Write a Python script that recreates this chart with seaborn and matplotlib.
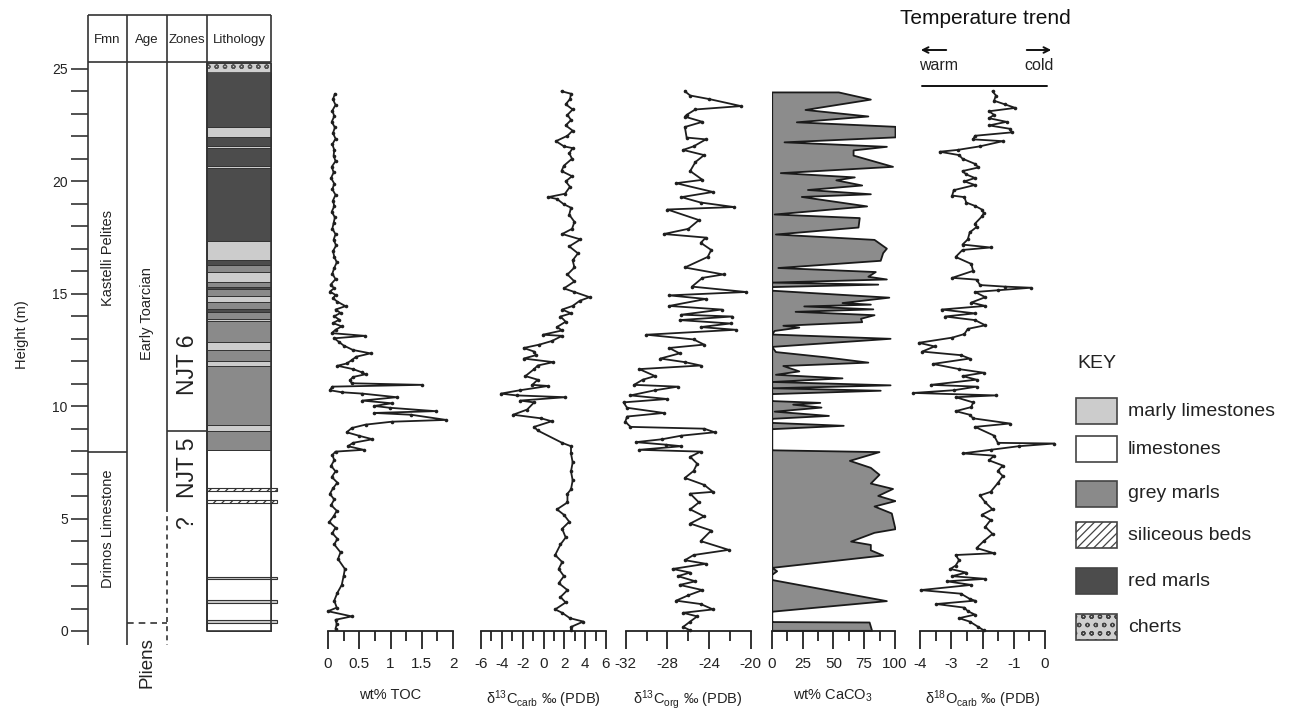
import matplotlib
matplotlib.use("Agg")
import matplotlib.pyplot as plt
import seaborn as sns
from matplotlib.patches import Rectangle

# ---------------- DATA ----------------
toc_h = [23.90, 23.65, 23.40, 23.15, 22.90, 22.65, 22.40, 22.15, 21.90, 21.65, 21.40, 21.15, 20.90, 20.65,
         20.40, 20.15, 19.90, 19.65, 19.40, 19.15, 18.90, 18.65, 18.40, 18.15, 17.90, 17.65, 17.40, 17.15,
         16.90, 16.65, 16.40, 16.15, 15.90, 15.65, 15.40, 15.25, 15.10, 14.95, 14.80, 14.65, 14.45, 14.30,
         14.15, 14.00, 13.85, 13.70, 13.55, 13.40, 13.25, 13.13, 13.02, 12.85, 12.70, 12.50, 12.35, 12.20,
         12.05, 11.90, 11.80, 11.65, 11.50, 11.42, 11.30, 11.15, 11.02, 10.95, 10.87, 10.71, 10.62, 10.56,
         10.40, 10.25, 10.13, 10.01, 9.93, 9.78, 9.70, 9.62, 9.39, 9.31, 9.18, 9.03, 8.84, 8.69, 8.53,
         8.37, 8.22, 8.06, 7.98, 7.83, 7.60, 7.35, 7.10, 6.85, 6.60, 6.35, 6.10, 5.85, 5.60, 5.35, 5.10,
         4.85, 4.60, 4.35, 4.10, 3.85, 3.50, 3.20, 2.76, 2.45, 2.05, 1.70, 1.35, 1.04, 0.88, 0.65, 0.50,
         0.30, 0.10]
toc_v = [0.11, 0.08, 0.12, 0.07, 0.10, 0.06, 0.11, 0.08, 0.12, 0.07, 0.10, 0.09, 0.12, 0.06,
         0.09, 0.05, 0.10, 0.07, 0.12, 0.08, 0.10, 0.06, 0.11, 0.09, 0.07, 0.12, 0.09, 0.13,
         0.08, 0.10, 0.14, 0.10, 0.07, 0.12, 0.04, 0.10, 0.03, 0.12, 0.08, 0.15, 0.28, 0.12,
         0.20, 0.10, 0.18, 0.08, 0.22, 0.12, 0.06, 0.59, 0.10, 0.18, 0.25, 0.40, 0.68, 0.45,
         0.38, 0.30, 0.15, 0.40, 0.55, 0.60, 0.40, 0.35, 0.38, 1.50, 0.07, 0.03, 0.22, 0.55,
         1.10, 0.55, 1.02, 0.74, 0.99, 1.72, 0.74, 1.33, 1.89, 1.02, 0.60, 0.38, 0.30, 0.49, 0.71,
         0.40, 0.32, 0.57, 0.12, 0.07, 0.10, 0.05, 0.12, 0.06, 0.15, 0.08, 0.03, 0.10, 0.05, 0.14, 0.09,
         0.02, 0.12, 0.07, 0.15, 0.10, 0.20, 0.16, 0.27, 0.25, 0.22, 0.15, 0.10, 0.14, 0.00, 0.38, 0.12,
         0.14, 0.12]

ccarb_h = [24.01, 23.90, 23.66, 23.43, 23.20, 22.96, 22.73, 22.49, 22.26, 22.03, 21.79, 21.56, 21.48,
           21.25, 21.01, 20.70, 20.46, 20.23, 20.00, 19.76, 19.45, 19.30, 19.22, 18.98, 18.83, 18.52,
           18.20, 17.89, 17.66, 17.42, 17.11, 16.80, 16.49, 16.17, 15.86, 15.55, 15.24, 15.08, 14.85,
           14.69, 14.46, 14.30, 14.13, 13.99, 13.76, 13.52, 13.37, 13.18, 13.13, 12.90, 12.74, 12.59,
           12.43, 12.27, 12.12, 11.96, 11.81, 11.65, 11.34, 11.18, 10.95, 10.90, 10.71, 10.56, 10.48,
           10.40, 10.25, 10.17, 9.85, 9.62, 9.46, 9.33, 9.08, 8.92, 8.37, 8.22, 7.90, 7.50, 7.10, 6.70,
           6.30, 6.11, 5.72, 5.41, 5.17, 4.86, 4.55, 4.16, 3.85, 3.38, 3.07, 2.76, 2.44, 2.13, 1.82,
           1.51, 1.27, 0.96, 0.81, 0.57, 0.42, 0.18, 0.03]
ccarb_v = [1.73, 2.64, 2.54, 2.13, 2.80, 2.30, 2.64, 2.13, 2.80, 2.30, 1.19, 1.96, 2.80,
           2.47, 2.74, 1.96, 1.73, 2.74, 2.13, 2.54, 2.06, 0.45, 1.29, 1.96, 2.64, 2.47,
           2.97, 2.74, 1.79, 3.55, 2.47, 3.31, 2.80, 2.97, 2.30, 2.97, 1.96, 2.97, 4.42,
           3.48, 2.80, 1.79, 2.64, 1.63, 2.13, 1.29, 1.79, -0.06, 1.79, 0.80, -0.39, -1.90,
           -0.90, -0.73, -1.90, 0.95, -0.56, -0.90, -1.74, -0.56, -1.07, 0.45, -2.25, -4.10, -2.58,
           2.10, -2.25, -0.90, -1.57, -2.92, -0.22, 0.78, -0.90, -0.56, 1.79, 2.64, 2.64, 2.80, 2.64, 2.80,
           2.64, 2.30, 2.30, 1.29, 1.96, 2.47, 1.79, 2.13, 1.63, 1.12, 1.79, 1.46, 1.96, 1.46, 2.30,
           1.63, 2.13, 1.12, 1.79, 2.54, 3.82, 2.64, 2.64]

corg_h = [24.01, 23.82, 23.66, 23.35, 23.20, 22.96, 22.88, 22.65, 22.42, 21.95, 21.87, 21.56, 21.40,
          21.17, 20.86, 20.46, 20.07, 19.92, 19.53, 19.30, 19.06, 18.86, 18.75, 18.28, 17.89, 17.66,
          17.50, 17.27, 16.95, 16.64, 16.17, 15.86, 15.71, 15.32, 15.08, 14.93, 14.77, 14.46, 14.30,
          14.07, 13.99, 13.83, 13.68, 13.52, 13.40, 13.18, 12.97, 12.74, 12.59, 12.35, 12.12, 11.96,
          11.81, 11.65, 11.34, 11.18, 10.95, 10.87, 10.71, 10.48, 10.32, 10.17, 9.93, 9.70, 9.54, 9.31,
          9.08, 9.00, 8.84, 8.69, 8.53, 8.40, 8.29, 8.22, 8.06, 7.98, 7.75, 7.44, 7.12, 6.81, 6.50,
          6.19, 6.11, 5.72, 5.41, 5.10, 4.78, 4.47, 4.00, 3.61, 3.38, 3.15, 2.99, 2.76, 2.60, 2.44,
          2.21, 2.05, 1.82, 1.59, 1.35, 1.20, 0.96, 0.81, 0.65, 0.42, 0.18, 0.03]
corg_v = [-26.32, -25.81, -23.96, -20.93, -25.31, -26.15, -26.32, -24.63, -26.32, -26.15, -24.30, -25.48, -26.49,
          -24.47, -25.31, -25.81, -24.63, -27.16, -23.62, -26.65, -24.80, -21.60, -28.00, -24.97, -25.98, -28.34,
          -24.30, -24.80, -23.79, -24.13, -26.32, -22.61, -24.63, -25.64, -20.43, -27.83, -24.30, -27.83, -22.79,
          -26.65, -21.77, -26.82, -21.93, -24.80, -21.44, -30.02, -25.48, -24.47, -27.83, -26.82, -28.68, -26.32,
          -24.80, -30.70, -29.18, -30.36, -31.20, -26.99, -29.18, -31.54, -28.00, -32.21, -31.87, -28.34, -31.87, -32.04,
          -31.54, -24.47, -23.46, -26.65, -28.51, -31.03, -28.17, -26.65, -30.70, -24.80, -25.81, -25.14, -25.48, -26.32, -24.47,
          -23.62, -25.81, -24.97, -25.81, -24.47, -25.81, -23.79, -24.80, -22.11, -25.48, -26.32, -24.30, -27.50, -25.81, -26.99,
          -25.31, -26.82, -24.63, -25.98, -27.16, -24.80, -23.62, -26.49, -25.14, -25.81, -26.49, -25.81]

caco3_h = [23.98, 23.66, 23.20, 22.91, 22.65, 22.45, 21.98, 21.76, 21.56, 21.40, 21.17, 20.67, 20.39,
           20.20, 20.07, 19.84, 19.64, 19.45, 19.33, 18.91, 18.55, 18.39, 17.97, 17.66, 17.42, 17.03,
           16.83, 16.49, 16.17, 15.99, 15.78, 15.66, 15.52, 15.43, 15.32, 15.16, 14.85, 14.61, 14.54,
           14.46, 14.33, 14.22, 14.07, 13.91, 13.76, 13.60, 13.52, 13.37, 13.21, 13.02, 12.66, 12.43,
           12.20, 11.96, 11.81, 11.57, 11.42, 11.26, 11.10, 10.95, 10.82, 10.71, 10.56, 10.25, 10.17,
           10.09, 9.96, 9.78, 9.59, 9.46, 9.28, 9.15, 9.00, 8.06, 7.98, 7.59, 7.28, 6.97, 6.58, 6.34,
           6.03, 5.80, 5.56, 5.25, 4.55, 4.39, 4.00, 3.85, 3.61, 3.38, 2.83, 2.68, 2.52, 2.29, 1.35,
           0.88, 0.42, 0.40, 0.03]
caco3_v = [54, 80, 27, 78, 20, 100, 100, 10, 93, 66, 66, 98, 7,
           67, 52, 73, 29, 80, 24, 77, 2, 71, 70, 3, 83, 93,
           90, 88, 5, 84, 78, 93, 0, 86, 0, 0, 95, 57, 80,
           26, 82, 19, 83, 72, 73, 9, 22, 2, 0, 96, 0, 3,
           43, 78, 9, 22, 3, 57, 0, 96, 0, 88, 0, 0, 39,
           17, 40, 2, 46, 0, 0, 58, 0, 0, 87, 63, 80, 87, 80, 98,
           86, 100, 83, 97, 100, 83, 64, 80, 80, 90, 0, 4, 0, 0, 93,
           0, 0, 79, 81]

o18_h = [24.01, 23.82, 23.59, 23.43, 23.27, 23.12, 22.96, 22.81, 22.65, 22.49, 22.34, 22.18, 22.03,
         21.87, 21.79, 21.56, 21.40, 21.32, 21.17, 21.01, 20.78, 20.62, 20.46, 20.31, 20.15, 20.00,
         19.84, 19.61, 19.37, 19.30, 19.06, 18.91, 18.75, 18.59, 18.44, 18.12, 17.97, 17.73, 17.42,
         17.19, 17.06, 16.95, 16.64, 16.33, 16.02, 15.71, 15.63, 15.39, 15.32, 15.27, 15.16, 15.08,
         14.85, 14.61, 14.46, 14.30, 14.13, 13.99, 13.83, 13.60, 13.44, 13.21, 13.05, 12.82, 12.66,
         12.43, 12.27, 12.12, 11.88, 11.65, 11.49, 11.34, 11.18, 10.95, 10.87, 10.71, 10.59, 10.48,
         10.40, 10.17, 9.96, 9.78, 9.62, 9.46, 9.23, 9.08, 8.69, 8.37, 8.34, 8.22, 8.06, 7.90, 7.80,
         7.59, 7.36, 7.12, 6.89, 6.58, 6.19, 6.03, 5.72, 5.41, 5.17, 4.94, 4.63, 4.32, 4.00, 3.69,
         3.46, 3.38, 3.15, 2.91, 2.76, 2.60, 2.44, 2.32, 2.21, 2.05, 1.82, 1.66, 1.43, 1.35, 1.20,
         1.04, 0.88, 0.73, 0.57, 0.42, 0.18, 0.03]
o18_v = [-1.68, -1.57, -1.63, -1.29, -0.95, -1.79, -1.63, -1.79, -1.23, -1.79, -1.12, -1.07, -2.24,
         -2.30, -1.35, -2.08, -2.80, -3.37, -2.75, -2.64, -2.24, -2.13, -2.64, -2.52, -2.24, -2.58,
         -2.24, -2.92, -2.97, -2.58, -2.52, -2.24, -2.02, -1.96, -2.02, -2.24, -2.19, -2.41, -2.47,
         -2.64, -1.74, -2.64, -2.86, -2.36, -2.30, -2.97, -2.19, -2.08, -1.29, -0.45, -1.51, -2.24,
         -1.91, -2.36, -1.91, -3.31, -2.24, -3.20, -2.24, -1.91, -2.47, -2.58, -2.97, -4.04, -3.53,
         -3.93, -2.69, -2.41, -3.59, -2.75, -1.96, -2.64, -2.19, -3.65, -2.19, -2.92, -4.21, -1.57,
         -2.86, -2.30, -2.36, -2.86, -2.41, -2.30, -1.12, -2.24, -1.63, -1.51, 0.30, -0.84, -1.74, -2.64, -1.63,
         -1.79, -1.35, -1.51, -1.35, -1.51, -1.74, -2.08, -1.91, -1.68, -2.02, -1.74, -1.91, -1.68, -1.96, -2.19,
         -1.63, -2.86, -2.75, -2.86, -3.03, -2.52, -2.97, -1.91, -3.14, -2.36, -3.98, -2.69, -2.41, -2.24, -3.48,
         -2.58, -2.47, -2.24, -2.75, -2.41, -2.13, -1.96]

# lithology (base m, top m, type)
lith_base = [0.00, 8.04, 8.90, 9.16, 11.78, 12.00, 12.52, 12.86, 13.80, 13.90, 14.20, 14.34, 14.63,
             14.89, 15.22, 15.30, 15.52, 15.98, 16.28, 16.49, 17.35, 20.60, 20.67, 21.50, 21.56,
             21.97, 22.41, 24.86]
lith_top = [8.04, 8.90, 9.16, 11.78, 12.00, 12.52, 12.86, 13.80, 13.90, 14.20, 14.34, 14.63, 14.89,
            15.22, 15.30, 15.52, 15.98, 16.28, 16.49, 17.35, 20.60, 20.67, 21.50, 21.56, 21.97,
            22.41, 24.86, 25.26]
lith_type = ["limestones", "grey marls", "marly limestones", "grey marls", "marly limestones",
             "grey marls", "marly limestones", "grey marls", "marly limestones", "grey marls",
             "red marls", "grey marls", "marly limestones", "grey marls", "red marls", "grey marls",
             "marly limestones", "grey marls", "red marls", "marly limestones", "red marls",
             "marly limestones", "red marls", "marly limestones", "red marls", "marly limestones",
             "red marls", "cherts"]
bed_base = [0.37, 1.23, 2.30, 5.70, 6.22]
bed_top = [0.49, 1.38, 2.41, 5.82, 6.34]
bed_type = ["marly limestones", "marly limestones", "marly limestones", "siliceous beds", "siliceous beds"]

key_labels = ["marly limestones", "limestones", "grey marls", "siliceous beds", "red marls", "cherts"]

height_ticks = [0, 5, 10, 15, 20, 25]

panel_labels = ["wt% TOC", "δ$^{13}$C$_{\\rm carb}$ ‰ (PDB)", "δ$^{13}$C$_{\\rm org}$ ‰ (PDB)",
                "wt% CaCO$_3$", "δ$^{18}$O$_{\\rm carb}$ ‰ (PDB)"]
toc_ticks = [0, 0.5, 1, 1.5, 2]
toc_ticklabels = ["0", "0.5", "1", "1.5", "2"]
ccarb_ticks = [-6, -4, -2, 0, 2, 4, 6]
corg_ticks = [-32, -28, -24, -20]
caco3_ticks = [0, 25, 50, 75, 100]
o18_ticks = [-4, -3, -2, -1, 0]

# ---------------- STYLE ----------------
sns.set_theme(style="white")
plt.rcParams["font.family"] = ["Liberation Sans", "DejaVu Sans"]
plt.rcParams["axes.unicode_minus"] = False
plt.rcParams["mathtext.fontset"] = "custom"
plt.rcParams["mathtext.rm"] = "Liberation Sans"
plt.rcParams["mathtext.it"] = "Liberation Sans:italic"
plt.rcParams["mathtext.bf"] = "Liberation Sans:bold"
plt.rcParams["hatch.linewidth"] = 0.9

FILL = {"marly limestones": "#cccccc", "limestones": "#ffffff", "grey marls": "#8a8a8a",
        "siliceous beds": "#ffffff", "red marls": "#4c4c4c", "cherts": "#cfcfcf"}
HATCH = {"siliceous beds": "////", "cherts": "oo"}
INK = "#222222"

W, H = 1303, 711
PXM = 22.48
Y0 = 631


def hy(ypix):
    return (Y0 - ypix) / PXM


fig = plt.figure(figsize=(W / 100, H / 100), dpi=100)
ax0 = fig.add_axes([0, 0, 1, 1])
ax0.set_xlim(0, W)
ax0.set_ylim(hy(H), hy(0))
ax0.axis("off")

# lithology column
LX0, LX1 = 207, 271
ax0.barh(lith_base, LX1 - LX0, height=[t - b for b, t in zip(lith_base, lith_top)], left=LX0,
         align="edge", color=[FILL[t] for t in lith_type], edgecolor="#333333", linewidth=0.7,
         zorder=2)
for b, t, ty in zip(lith_base, lith_top, lith_type):
    if ty in HATCH:
        ax0.add_patch(Rectangle((LX0, b), LX1 - LX0, t - b, facecolor=FILL[ty], edgecolor="#555555",
                                hatch=HATCH[ty], linewidth=0.7, zorder=3))
for b, t, ty in zip(bed_base, bed_top, bed_type):
    ax0.add_patch(Rectangle((LX0, b), 277 - LX0, t - b, facecolor=FILL[ty], edgecolor="#333333",
                            hatch=HATCH.get(ty), linewidth=0.8, zorder=4))
ax0.add_patch(Rectangle((LX0, 0), LX1 - LX0, lith_top[-1], fill=False, edgecolor="#333333",
                        linewidth=1.2, zorder=5))

lk = dict(color="#333333", lw=1.2, zorder=6, solid_capstyle="butt")
top_h, hdr_h, bot_h = hy(15), hy(62), hy(645)
ax0.plot([88, 271], [top_h, top_h], **lk)
ax0.plot([88, 271], [hdr_h, hdr_h], **lk)
for x in (88, 127):
    ax0.plot([x, x], [top_h, bot_h], **lk)
ax0.plot([167, 167], [top_h, 5.53], **lk)
ax0.plot([167, 167], [5.53, bot_h], color="#333333", lw=1.2, ls=(0, (3, 2.5)), zorder=6)
ax0.plot([207, 207], [top_h, 0], **lk)
ax0.plot([271, 271], [top_h, hdr_h], **lk)
ax0.plot([88, 127], [7.97, 7.97], **lk)
ax0.plot([167, 207], [8.89, 8.89], **lk)
ax0.plot([127, 167], [0.37, 0.37], color="#333333", lw=1.2, ls=(0, (4, 3)), zorder=6)

hy40 = hy(40)
for x, s in zip([107.5, 147, 187, 239], ["Fmn", "Age", "Zones", "Lithology"]):
    ax0.text(x, hy40, s, ha="center", va="center", fontsize=9.5, color=INK)
rot = dict(rotation=90, ha="center", va="center", color=INK)
ax0.text(108, 16.6, "Kastelli Pelites", fontsize=10.5, **rot)
ax0.text(147, 14.1, "Early Toarcian", fontsize=10.5, **rot)
ax0.text(187, 11.85, "NJT 6", fontsize=16.5, **rot)
ax0.text(187, 7.25, "NJT 5", fontsize=16.5, **rot)
ax0.text(187, 4.8, "?", fontsize=16.5, **rot)
ax0.text(108, 4.55, "Drimos Limestone", fontsize=10.5, **rot)
ax0.text(147, -1.4, "Pliens", fontsize=13.5, **rot)
ax0.text(22, hy(335), "Height (m)", fontsize=10.5, **rot)

# height scale
ax_h = fig.add_axes([88 / W, (H - Y0) / H, 0.0001, (Y0 - 69) / H])
ax_h.set_ylim(0, 25)
ax_h.patch.set_alpha(0)
for s in ax_h.spines.values():
    s.set_visible(False)
ax_h.set_xticks([])
ax_h.set_yticks(height_ticks)
ax_h.set_yticks(range(0, 26), minor=True)
ax_h.tick_params(axis="y", which="both", left=True, direction="out", length=12.5, width=1.2,
                 color="#333333", labelsize=10, pad=2, labelcolor=INK)

# data panels
panels = [
    (328, 453, (0, 2), toc_ticks, toc_ticklabels, 0.25),
    (481, 606, (-6, 6), ccarb_ticks, [str(t) for t in ccarb_ticks], 1),
    (625.7, 750.7, (-32, -20), corg_ticks, [str(t) for t in corg_ticks], 2),
    (771.7, 895, (0, 100), caco3_ticks, [str(t) for t in caco3_ticks], 12.5),
    (920, 1045, (-4, 0), o18_ticks, [str(t) for t in o18_ticks], 0.5),
]
series = [(toc_v, toc_h), (ccarb_v, ccarb_h), (corg_v, corg_h), (caco3_v, caco3_h), (o18_v, o18_h)]

for i, ((x0, x1, xl, tks, tkl, mstep), (v, h), lab) in enumerate(zip(panels, series, panel_labels)):
    ax = fig.add_axes([x0 / W, (H - Y0) / H, (x1 - x0) / W, (Y0 - 69) / H])
    ax.patch.set_alpha(0)
    if i == 3:
        ax.fill_betweenx(h, 0, v, facecolor="#8c8c8c", edgecolor="#1a1a1a", linewidth=1.3)
    else:
        sns.lineplot(x=v, y=h, sort=False, estimator=None, ax=ax, color="#1e1e1e", linewidth=1.3,
                     marker="o", markersize=2.6, markeredgewidth=0, clip_on=False)
    ax.set_xlim(*xl)
    ax.set_ylim(0, 25)
    for s in ("left", "right", "top"):
        ax.spines[s].set_visible(False)
    ax.spines["bottom"].set_color("#222222")
    ax.spines["bottom"].set_linewidth(1.3)
    ax.set_yticks([])
    ax.set_xticks(tks)
    ax.set_xticklabels(tkl)
    n = int(round((xl[1] - xl[0]) / mstep))
    ax.set_xticks([xl[0] + k * mstep for k in range(n + 1)], minor=True)
    ax.tick_params(axis="x", which="major", bottom=True, direction="out", length=13, width=1.3,
                   color="#222222", labelsize=11, pad=6, labelcolor=INK)
    ax.tick_params(axis="x", which="minor", bottom=True, direction="out", length=7, width=1.3,
                   color="#222222")
    ax.set_xlabel(lab, fontsize=10.5, labelpad=12, color=INK)
    ax.set_ylabel("")

# temperature trend
ax0.text(985, hy(18), "Temperature trend", ha="center", va="center", fontsize=15,
         color="#111111")
ax0.annotate("", xy=(918, hy(50)), xytext=(949, hy(50)),
             arrowprops=dict(arrowstyle="->", lw=1.4, color="#111111", mutation_scale=10))
ax0.annotate("", xy=(1054, hy(50)), xytext=(1024, hy(50)),
             arrowprops=dict(arrowstyle="->", lw=1.4, color="#111111", mutation_scale=10))
ax0.text(939, hy(66), "warm", ha="center", va="center", fontsize=11.5, color=INK)
ax0.text(1039, hy(66), "cold", ha="center", va="center", fontsize=11.5, color=INK)
ax0.plot([922, 1047], [hy(86), hy(86)], color="#111111", lw=1.4)

# key
ax0.text(1077, hy(364), "KEY", ha="left", va="center", fontsize=14, color=INK)
key_y = [411, 449, 494, 535, 581, 627]
for yc, lab in zip(key_y, key_labels):
    ax0.add_patch(Rectangle((1076, hy(yc + 13)), 41, 26 / PXM, facecolor=FILL[lab],
                            edgecolor="#444444", hatch=HATCH.get(lab), linewidth=1.2))
    ax0.text(1128, hy(yc), lab, ha="left", va="center", fontsize=14, color=INK)

fig.savefig("out.png", dpi=100)
